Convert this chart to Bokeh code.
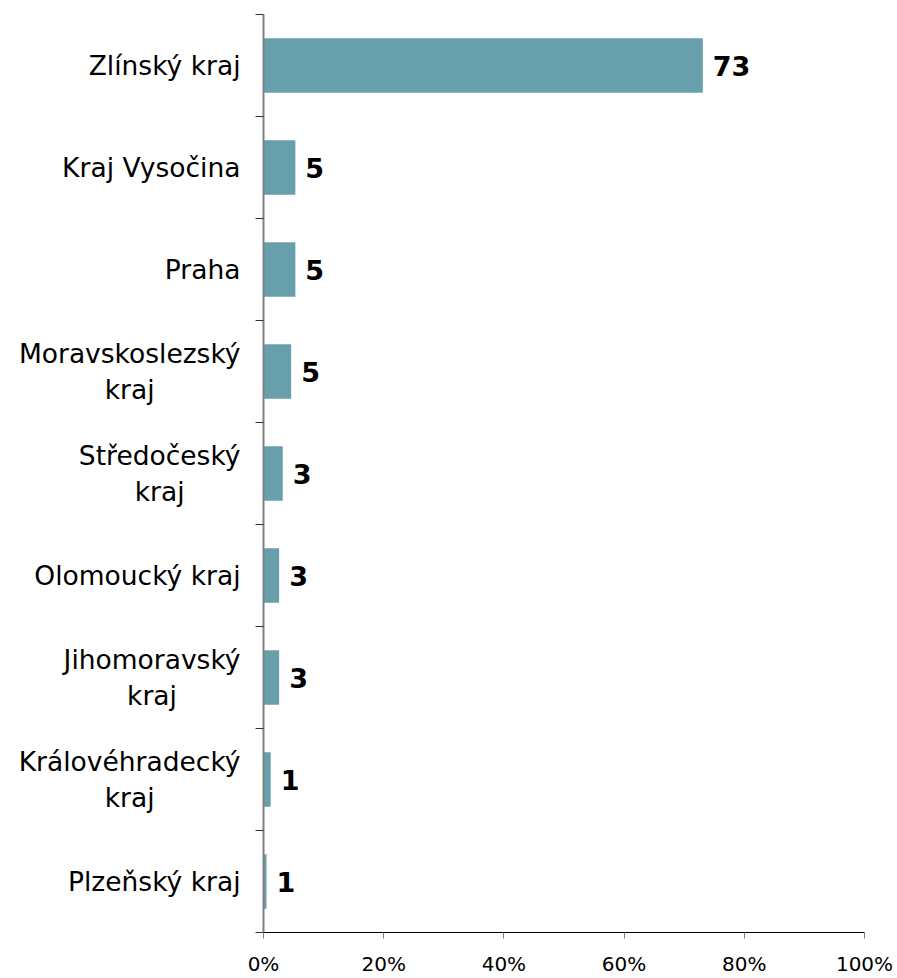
import glob
from bokeh.plotting import figure
from bokeh.layouts import row
from bokeh.models import Range1d, FixedTicker, PrintfTickFormatter
from bokeh.core.properties import value
from bokeh.embed import file_html
from bokeh.resources import INLINE

regions = ["Zlínský kraj", "Kraj Vysočina", "Praha", "Moravskoslezský\nkraj",
           "Středočeský\nkraj", "Olomoucký kraj", "Jihomoravský\nkraj",
           "Královéhradecký\nkraj", "Plzeňský kraj"]
shares = [73.1, 5.3, 5.3, 4.6, 3.2, 2.6, 2.6, 1.2, 0.5]
value_labels = ["73", "5", "5", "5", "3", "3", "3", "1", "1"]
x_ticks = [0, 20, 40, 60, 80, 100]

pos = [i + 0.5 for i in range(len(regions))]
bounds = list(range(len(regions) + 1))

FONT = "DejaVu Sans"
CAT_SIZE = 26.5
LABEL_W = 240
W, H = 897, 978
TOP, BOTTOM = 14, 40

# measure label widths so that multi-line labels can be centred line by line
def text_width(s, size):
    try:
        from PIL import ImageFont
        paths = glob.glob("/usr/share/fonts/**/DejaVuSans.ttf", recursive=True)
        if paths:
            f = ImageFont.truetype(paths[0], 100)
            return f.getlength(s) * size / 100.0
    except Exception:
        pass
    return len(s) * 0.6 * size

widths = [max(text_width(line, CAT_SIZE) for line in r.split("\n")) for r in regions]

yr = Range1d(len(regions), 0)

# main chart
p = figure(width=W - LABEL_W, height=H, output_backend="svg", toolbar_location=None,
           x_range=Range1d(0, 100), y_range=yr,
           min_border_left=23, min_border_right=33, min_border_top=TOP,
           min_border_bottom=BOTTOM)
p.outline_line_color = None
p.xgrid.visible = False
p.ygrid.visible = False

p.hbar(y=pos, left=0, right=shares, height=0.535, fill_color="#689FAD",
       line_color=None)
p.text(x=shares, y=pos, text=value_labels, x_offset=10, text_baseline="middle",
       text_align="left", text_font=value(FONT), text_font_style="bold",
       text_font_size="27px", text_color="black")

ya = p.yaxis[0]
ya.ticker = FixedTicker(ticks=[], minor_ticks=bounds)
ya.major_tick_out = 0
ya.major_tick_in = 0
ya.minor_tick_out = 8
ya.minor_tick_in = 0
ya.minor_tick_line_color = "#333333"
ya.axis_line_color = "#808080"
ya.axis_line_width = 2

xa = p.xaxis[0]
xa.ticker = FixedTicker(ticks=x_ticks, minor_ticks=[])
xa.formatter = PrintfTickFormatter(format="%d%%")
xa.axis_line_color = "black"
xa.major_tick_line_color = "#808080"
xa.major_tick_out = 6
xa.major_tick_in = 0
xa.major_label_standoff = 13
xa.major_label_text_font = FONT
xa.major_label_text_font_size = "20px"
xa.major_label_text_color = "black"

# category labels panel (lines centred under each other, block right-aligned)
lab = figure(width=LABEL_W, height=H, output_backend="svg", toolbar_location=None,
             x_range=Range1d(0, 1), y_range=yr,
             min_border_left=0, min_border_right=0, min_border_top=TOP,
             min_border_bottom=BOTTOM)
lab.axis.visible = False
lab.xgrid.visible = False
lab.ygrid.visible = False
lab.outline_line_color = None
lab.text(x=[1] * len(regions), y=pos, text=regions,
         x_offset=[-w / 2.0 for w in widths],
         text_align="center", text_baseline="middle",
         text_font=value(FONT), text_font_size=f"{CAT_SIZE}px",
         text_color="black", text_line_height=1.15)

open("out.html", "w").write(file_html(row(lab, p), INLINE))
